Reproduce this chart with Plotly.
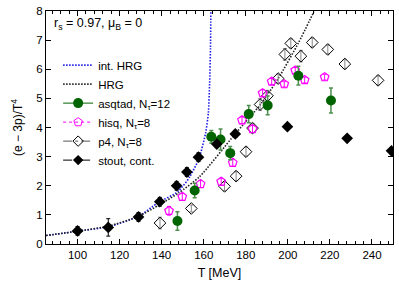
import plotly.graph_objects as go

# ---- data ----
hrg_T = [85, 100, 115, 129, 139, 148, 158, 174.6, 187.2, 195.4, 205, 212.4]
hrg_y = [0.29, 0.44, 0.62, 0.95, 1.35, 1.75, 2.31, 3.75, 4.81, 5.68, 6.9, 7.98]

ihrg_T = [85, 100, 115, 129, 138.3, 147.8, 153.3, 157.8, 160.9, 162.2, 162.8, 163.2, 163.4]
ihrg_y = [0.29, 0.44, 0.6, 0.95, 1.42, 1.8, 2.3, 2.95, 3.81, 4.5, 5.5, 6.7, 8.0]

asq_T = [147.5, 155.7, 163.6, 168.0, 172.6, 181.4, 190.4, 205.0, 220.5]
asq_y = [0.79, 1.84, 3.68, 3.59, 3.12, 4.46, 4.76, 5.78, 4.93]
asq_e = [0.32, 0.25, 0.22, 0.36, 0.23, 0.30, 0.32, 0.32, 0.43]

hisq_T = [143.5, 149.8, 158.5, 168.3, 173.8, 178.2, 183.2, 188.0, 192.3, 198.3, 203.5, 208.0, 217.5]
hisq_y = [1.14, 1.62, 2.06, 2.14, 2.79, 4.25, 3.95, 5.18, 5.58, 5.49, 5.96, 5.63, 5.73]
hisq_e = [0.15, 0.12, 0.12, 0.12, 0.12, 0.12, 0.12, 0.12, 0.1, 0.1, 0.1, 0.1, 0.1]

p4_T = [139.2, 154.1, 169.9, 175.4, 180.1, 183.2, 186.8, 190.3, 195.4, 198.6, 201.4, 206.2, 211.6, 219.0, 227.1, 242.9]
p4_y = [0.72, 1.22, 1.98, 2.33, 3.17, 3.98, 4.79, 5.09, 5.68, 6.51, 6.89, 6.45, 6.92, 6.68, 6.18, 5.62]
p4_e = [0.2, 0.12, 0.15, 0.15, 0.15, 0.15, 0.2, 0.15, 0.15, 0.2, 0.15, 0.2, 0.15, 0.15, 0.15, 0.15]

st_T = [100, 114.6, 129, 139.1, 147.1, 152, 157.5, 166.2, 175, 199.8, 228.2, 249.3]
st_y = [0.45, 0.57, 0.93, 1.45, 2.0, 2.47, 2.98, 3.43, 3.78, 4.03, 3.63, 3.2]
st_e = [0.15, 0.3, 0.15, 0.15, 0.15, 0.15, 0.15, 0.12, 0.12, 0.1, 0.1, 0.1]

y_ticks = [0, 1, 2, 3, 4, 5, 6, 7, 8]

FONT = "Liberation Sans, Arial, sans-serif"
GREEN = "#006400"
MAG = "#ff00ff"
FINE_DOT = "1.5px,1.5px"

fig = go.Figure()

# curves
fig.add_trace(go.Scatter(x=ihrg_T, y=ihrg_y, mode="lines", line=dict(color="#1a1ae6", width=1.6, dash=FINE_DOT, shape="spline", smoothing=0.6), showlegend=False, hoverinfo="skip"))
fig.add_trace(go.Scatter(x=hrg_T, y=hrg_y, mode="lines", line=dict(color="#222222", width=1.6, dash=FINE_DOT, shape="spline", smoothing=0.6), showlegend=False, hoverinfo="skip"))

# data series
fig.add_trace(go.Scatter(x=p4_T, y=p4_y, mode="markers", showlegend=False,
    marker=dict(symbol="diamond-open", size=9, color="black", line=dict(width=1, color="black")),
    error_y=dict(type="data", array=p4_e, color="#888888", thickness=1, width=2)))
fig.add_trace(go.Scatter(x=hisq_T, y=hisq_y, mode="markers", showlegend=False,
    marker=dict(symbol="pentagon-open", size=9, color=MAG, line=dict(width=1.2, color=MAG)),
    error_y=dict(type="data", array=hisq_e, color=MAG, thickness=1, width=2)))
fig.add_trace(go.Scatter(x=asq_T, y=asq_y, mode="markers", showlegend=False,
    marker=dict(symbol="circle", size=10, color=GREEN),
    error_y=dict(type="data", array=asq_e, color="#4f8f4f", thickness=1.5, width=2)))
fig.add_trace(go.Scatter(x=st_T, y=st_y, mode="markers", showlegend=False,
    marker=dict(symbol="diamond", size=9, color="black"),
    error_y=dict(type="data", array=st_e, color="black", thickness=1, width=2)))

# legend-only entries
leg = [
    ("int. HRG", dict(color="#1a1ae6", width=1.6, dash=FINE_DOT), None),
    ("HRG", dict(color="#222222", width=1.6, dash=FINE_DOT), None),
    ("asqtad, N<sub>τ</sub>=12", dict(color=GREEN, width=1), dict(symbol="circle", size=10, color=GREEN)),
    ("hisq, N<sub>τ</sub>=8", dict(color=MAG, width=1, dash="dot"), dict(symbol="pentagon-open", size=9, color=MAG)),
    ("p4, N<sub>τ</sub>=8", dict(color="#555555", width=1, dash="dashdot"), dict(symbol="diamond-open", size=8, color="black")),
    ("stout, cont.", dict(color="black", width=1, dash="dashdot"), dict(symbol="diamond", size=8, color="black")),
]
for name, ln, mk in leg:
    fig.add_trace(go.Scatter(x=[None], y=[None], name=name, mode="lines+markers" if mk else "lines",
                             line=ln, marker=mk if mk else None))

axis_common = dict(showline=True, linecolor="black", linewidth=1, mirror="allticks",
                   ticks="inside", ticklen=5, tickcolor="black", showgrid=False, zeroline=False,
                   ticklabeloverflow="allow",
                   tickfont=dict(family=FONT, size=11.5, color="black"))

fig.update_layout(
    width=399, height=283,
    margin=dict(l=46, r=5, t=5, b=39),
    paper_bgcolor="white", plot_bgcolor="white",
    font=dict(family=FONT, color="black"),
    xaxis=dict(range=[85, 250], dtick=20, tick0=0,
               minor=dict(dtick=4, ticklen=3, ticks="inside", tickcolor="black"),
               title=dict(text="T [MeV]", font=dict(family=FONT, size=12.5), standoff=8),
               **axis_common),
    yaxis=dict(range=[0, 8.001], tickmode="array", tickvals=y_ticks,
               title=dict(text="(e − 3p)/T<sup>4</sup>", font=dict(family=FONT, size=12), standoff=11),
               **axis_common),
    legend=dict(x=0.035, y=0.83, xanchor="left", yanchor="top", bgcolor="rgba(0,0,0,0)",
                font=dict(family=FONT, size=11.5, color="black"), itemwidth=30, tracegroupgap=0),
    annotations=[dict(x=0.018, y=0.985, xref="paper", yref="paper", xanchor="left", yanchor="top",
                      text="r<sub>s</sub> = 0.97, μ<sub>B</sub> = 0", showarrow=False,
                      font=dict(family=FONT, size=12.5, color="black"))],
)

fig.write_html("out.html", config={"displayModeBar": False},
               post_script="document.body.style.margin='0';document.body.style.overflow='hidden';")
